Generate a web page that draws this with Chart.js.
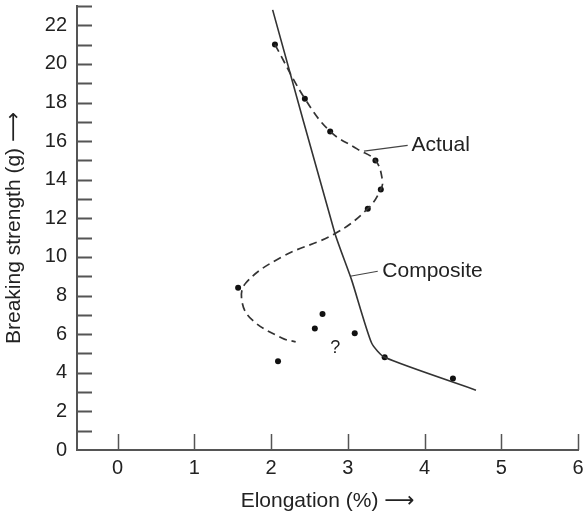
<!DOCTYPE html>
<html>
<head>
<meta charset="utf-8">
<script src="https://cdn.jsdelivr.net/npm/chart.js@4.4.1/dist/chart.umd.min.js"></script>
<style>
  html, body { margin: 0; padding: 0; background: #fff; }
  #wrap { width: 583px; height: 514px; position: relative; }
</style>
</head>
<body>
<div id="wrap"><canvas id="c" width="583" height="514"></canvas></div>
<script>
// Measured points (Elongation %, Breaking strength g)
const pointsX = [2.05, 2.44, 2.77, 3.36, 3.43, 3.26, 1.57, 2.67, 2.57, 3.09, 2.09, 3.48, 4.37];
const pointsY = [21.0, 18.2, 16.5, 15.0, 13.5, 12.5, 8.4, 7.05, 6.3, 6.05, 4.6, 4.8, 3.7];

// "Actual" dashed curve path
const actualX = [2.05, 2.44, 2.77, 3.12, 3.36, 3.45, 3.43, 3.26, 2.83, 2.14, 1.67, 1.62, 1.75, 2.14, 2.32];
const actualY = [21.0, 18.2, 16.5, 15.6, 15.0, 14.0, 13.5, 12.5, 11.2, 10.0, 8.65, 7.7, 6.75, 5.8, 5.6];

// "Composite" solid curve path
const compositeX = [2.02, 2.83, 3.05, 3.31, 3.48, 4.67];
const compositeY = [22.8, 11.24, 8.8, 5.54, 4.8, 3.1];

// Leader lines for labels
const actualLeaderX = [3.21, 3.78];
const actualLeaderY = [15.48, 15.78];
const compositeLeaderX = [3.03, 3.39];
const compositeLeaderY = [9.0, 9.26];

// Annotation labels
const labelTexts = ["Actual", "Composite", "?"];
const labelX = [3.83, 3.45, 2.77];
const labelY = [15.78, 9.28, 5.28];

const xTickValues = [0, 1, 2, 3, 4, 5, 6];
const yTickValues = [1,2,3,4,5,6,7,8,9,10,11,12,13,14,15,16,17,18,19,20,21,22,23];

const xTitle = "Elongation (%) \u27F6";
const yTitle = "Breaking strength (g) \u27F6";

const FONT = "'Liberation Sans', Arial, Helvetica, 'DejaVu Sans', sans-serif";
const INK = '#222';

function toXY(xs, ys) { return xs.map((x, i) => ({ x: x, y: ys[i] })); }

const tickPlugin = {
  id: 'inwardTicks',
  afterDraw(chart) {
    const ctx = chart.ctx;
    const xs = chart.scales.x, ys = chart.scales.y;
    const ca = chart.chartArea;
    ctx.save();
    ctx.strokeStyle = '#555';
    ctx.lineWidth = 2;
    ctx.beginPath();
    yTickValues.forEach(v => {
      const py = Math.round(ys.getPixelForValue(v)) + 0.5;
      ctx.moveTo(ca.left, py);
      ctx.lineTo(ca.left + 15, py);
    });
    ctx.stroke();
    ctx.lineWidth = 1.5;
    ctx.beginPath();
    xTickValues.forEach(v => {
      const px = Math.round(xs.getPixelForValue(v)) + 0.5;
      ctx.moveTo(px, ca.bottom);
      ctx.lineTo(px, ca.bottom - 16);
    });
    ctx.stroke();
    // labels
    ctx.fillStyle = INK;
    ctx.textBaseline = 'middle';
    ctx.textAlign = 'left';
    labelTexts.forEach((t, i) => {
      ctx.font = (i === 2 ? '18px ' : '21px ') + FONT;
      ctx.fillText(t, xs.getPixelForValue(labelX[i]), ys.getPixelForValue(labelY[i]));
    });
    ctx.restore();
  }
};

new Chart(document.getElementById('c'), {
  type: 'scatter',
  data: {
    datasets: [
      {
        data: toXY(compositeX, compositeY), showLine: true, borderColor: '#333', borderWidth: 1.6,
        pointRadius: 0, tension: 0.2, fill: false
      },
      {
        data: toXY(actualX, actualY), showLine: true, borderColor: '#333', borderWidth: 1.7,
        borderDash: [8, 5], pointRadius: 0, tension: 0.4, fill: false
      },
      {
        data: toXY(actualLeaderX, actualLeaderY), showLine: true, borderColor: '#444', borderWidth: 1.2,
        pointRadius: 0, tension: 0
      },
      {
        data: toXY(compositeLeaderX, compositeLeaderY), showLine: true, borderColor: '#444', borderWidth: 1.2,
        pointRadius: 0, tension: 0
      },
      {
        data: toXY(pointsX, pointsY), showLine: false, pointRadius: 3, pointBackgroundColor: '#111',
        pointBorderColor: '#111', pointBorderWidth: 0
      }
    ]
  },
  options: {
    responsive: false,
    animation: false,
    events: [],
    layout: { padding: { left: 0, right: 5, top: 6, bottom: 0 } },
    plugins: { legend: { display: false }, tooltip: { enabled: false } },
    scales: {
      x: {
        type: 'linear', min: -0.53, max: 6,
        afterFit: s => { s.height = 64; s.paddingLeft = 0; s.paddingRight = 0; },
        afterBuildTicks: s => { s.ticks = xTickValues.map(v => ({ value: v })); },
        grid: { display: false, drawTicks: false },
        border: { display: true, color: '#555', width: 2 },
        ticks: { padding: 6, color: INK, font: { size: 20, family: FONT }, callback: v => String(v) },
        title: { display: true, text: xTitle, color: INK, font: { size: 21, family: FONT }, padding: { top: 0, bottom: 0 } }
      },
      y: {
        type: 'linear', min: 0, max: 23,
        afterFit: s => { s.width = 77; s.paddingTop = 0; s.paddingBottom = 0; },
        afterBuildTicks: s => { s.ticks = [0].concat(yTickValues).map(v => ({ value: v })); },
        grid: { display: false, drawTicks: false },
        border: { display: true, color: '#555', width: 2 },
        ticks: { padding: 10, color: INK, font: { size: 20, family: FONT }, autoSkip: false,
          callback: v => (v % 2 === 0 ? String(v) : '') },
        title: { display: true, text: yTitle, color: INK, font: { size: 21, family: FONT }, padding: { top: 2, bottom: 0 } }
      }
    }
  },
  plugins: [tickPlugin]
});
</script>
</body>
</html>
